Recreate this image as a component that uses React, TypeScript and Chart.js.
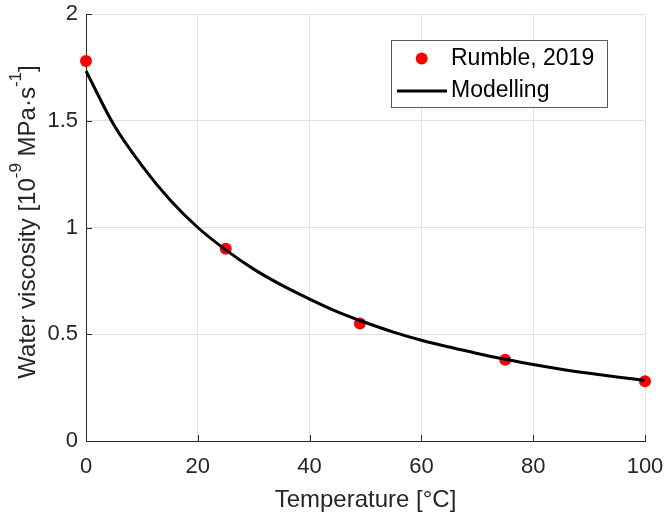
import React, { useEffect, useRef } from "react";
import { Chart, registerables } from "chart.js";

Chart.register(...registerables);

// Modelled curve (temperature in °C, viscosity in 1e-9 MPa·s)
const modelTemps = [0, 5, 10, 15, 20, 25, 30, 35, 40, 45, 50, 55, 60, 65, 70, 75, 80, 85, 90, 95, 100];
const modelValues = [1.733, 1.48, 1.29, 1.13, 1.0, 0.895, 0.805, 0.73, 0.665, 0.605, 0.555, 0.51, 0.472, 0.44, 0.41, 0.383, 0.358, 0.336, 0.317, 0.3, 0.284];

// Measured data (Rumble, 2019)
const obsTemps = [0, 25, 49, 75, 100];
const obsValues = [1.78, 0.9, 0.55, 0.38, 0.28];

const xTicks = [0, 20, 40, 60, 80, 100];
const yTicks = [0, 0.5, 1, 1.5, 2];

const seriesNames = ["Rumble, 2019", "Modelling"];
const xTitle = "Temperature [°C]";

const FONT = "'Liberation Sans', Arial, Helvetica, sans-serif";
const AXIS_COLOR = "#262626";
const GRID_COLOR = "#e0e0e0";

const decorPlugin = {
  id: "decor",
  beforeDatasetsDraw(chart: any) {
    const ctx = chart.ctx;
    const xs = chart.scales.x;
    const ys = chart.scales.y;
    const area = chart.chartArea;
    ctx.save();
    ctx.strokeStyle = AXIS_COLOR;
    ctx.lineWidth = 1;
    // inward ticks
    xTicks.forEach((t) => {
      const px = Math.round(xs.getPixelForValue(t)) + 0.5;
      ctx.beginPath();
      ctx.moveTo(px, area.bottom);
      ctx.lineTo(px, area.bottom - 6);
      ctx.stroke();
    });
    yTicks.forEach((t) => {
      const py = Math.round(ys.getPixelForValue(t)) + 0.5;
      ctx.beginPath();
      ctx.moveTo(area.left, py);
      ctx.lineTo(area.left + 6, py);
      ctx.stroke();
    });
    ctx.restore();
  },
  afterDraw(chart: any) {
    const ctx = chart.ctx;
    const area = chart.chartArea;
    ctx.save();
    ctx.fillStyle = AXIS_COLOR;
    // x title
    ctx.font = `24px ${FONT}`;
    ctx.textAlign = "center";
    ctx.textBaseline = "alphabetic";
    ctx.fillText(xTitle, (area.left + area.right) / 2, 507);

    // y title with superscripts
    const main = `24px ${FONT}`;
    const sup = `17px ${FONT}`;
    const parts: [string, boolean][] = [
      ["Water viscosity [10", false],
      ["-9", true],
      [" MPa·s", false],
      ["-1", true],
      ["]", false],
    ];
    let total = 0;
    const widths = parts.map(([s, isSup]) => {
      ctx.font = isSup ? sup : main;
      const w = ctx.measureText(s).width;
      total += w;
      return w;
    });
    ctx.translate(35, 222);
    ctx.rotate(-Math.PI / 2);
    ctx.textAlign = "left";
    let x = -total / 2;
    parts.forEach(([s, isSup], i) => {
      ctx.font = isSup ? sup : main;
      ctx.fillText(s, x, isSup ? -14 : 0);
      x += widths[i];
    });
    ctx.restore();

    // legend
    ctx.save();
    ctx.fillStyle = "#ffffff";
    ctx.strokeStyle = "#5a5a5a";
    ctx.lineWidth = 1;
    ctx.fillRect(391.5, 40.5, 216, 67);
    ctx.strokeRect(391.5, 40.5, 216, 67);
    ctx.fillStyle = "#ff0000";
    ctx.beginPath();
    ctx.arc(421.7, 58.5, 6, 0, Math.PI * 2);
    ctx.fill();
    ctx.strokeStyle = "#000000";
    ctx.lineWidth = 3;
    ctx.beginPath();
    ctx.moveTo(397, 91);
    ctx.lineTo(447, 91);
    ctx.stroke();
    ctx.fillStyle = "#000000";
    ctx.font = `23px ${FONT}`;
    ctx.textAlign = "left";
    ctx.textBaseline = "middle";
    ctx.fillText(seriesNames[0], 451, 59);
    ctx.fillText(seriesNames[1], 451, 91);
    ctx.restore();
  },
};

export default function App() {
  const ref = useRef<HTMLCanvasElement | null>(null);
  useEffect(() => {
    document.body.style.margin = "0";
    if (!ref.current) return;
    const chart = new Chart(ref.current, {
      type: "scatter",
      data: {
        datasets: [
          {
            label: seriesNames[1],
            data: modelTemps.map((t, i) => ({ x: t, y: modelValues[i] })),
            showLine: true,
            borderColor: "#000000",
            borderWidth: 3,
            pointRadius: 0,
            cubicInterpolationMode: "monotone",
            clip: false as any,
          },
          {
            label: seriesNames[0],
            data: obsTemps.map((t, i) => ({ x: t, y: obsValues[i] })),
            showLine: false,
            backgroundColor: "#ff0000",
            borderColor: "#ff0000",
            borderWidth: 0,
            pointRadius: 6,
            pointHoverRadius: 6,
            clip: false as any,
          },
        ],
      },
      options: {
        responsive: false,
        animation: false,
        events: [],
        layout: { padding: { top: 14, right: 20, left: 0, bottom: 0 } },
        plugins: { legend: { display: false }, tooltip: { enabled: false }, title: { display: false } },
        scales: {
          x: {
            type: "linear",
            min: 0,
            max: 100,
            afterBuildTicks: (s: any) => {
              s.ticks = xTicks.map((v) => ({ value: v }));
            },
            afterFit: (s: any) => {
              s.height = 76;
              s.paddingLeft = 0;
              s.paddingRight = 0;
              s.paddingTop = 0;
              s.paddingBottom = 0;
            },
            grid: { color: GRID_COLOR, drawTicks: false, lineWidth: 1 },
            border: { display: true, color: AXIS_COLOR, width: 1 },
            ticks: {
              color: AXIS_COLOR,
              font: { family: FONT, size: 22 },
              padding: 13,
              maxRotation: 0,
              callback: (v: any) => String(v),
            },
          },
          y: {
            type: "linear",
            min: 0,
            max: 2,
            afterBuildTicks: (s: any) => {
              s.ticks = yTicks.map((v) => ({ value: v }));
            },
            afterFit: (s: any) => {
              s.width = 86;
              s.paddingLeft = 0;
              s.paddingRight = 0;
              s.paddingTop = 0;
              s.paddingBottom = 0;
            },
            grid: { color: GRID_COLOR, drawTicks: false, lineWidth: 1 },
            border: { display: true, color: AXIS_COLOR, width: 1 },
            ticks: {
              color: AXIS_COLOR,
              font: { family: FONT, size: 22 },
              padding: 8,
              callback: (v: any) => String(v),
            },
          },
        },
      },
      plugins: [decorPlugin],
    });
    return () => chart.destroy();
  }, []);
  return <canvas ref={ref} width={665} height={517} style={{ display: "block" }} />;
}
